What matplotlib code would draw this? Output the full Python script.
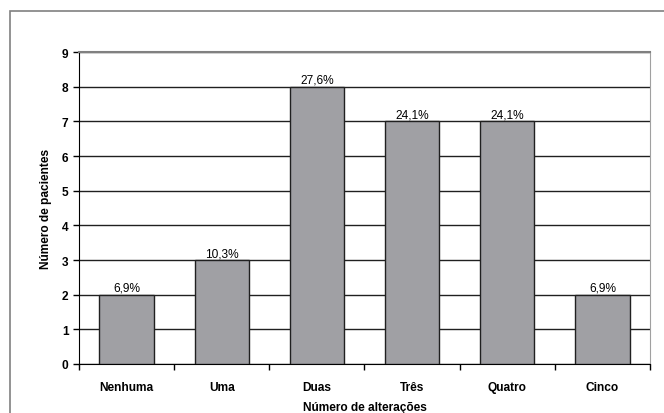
import matplotlib
matplotlib.use("Agg")
import matplotlib.pyplot as plt
from matplotlib.patches import Rectangle

categorias = ["Nenhuma", "Uma", "Duas", "Três", "Quatro", "Cinco"]
pacientes = [2, 3, 8, 7, 7, 2]
percentuais = ["6,9%", "10,3%", "27,6%", "24,1%", "24,1%", "6,9%"]

plt.rcParams["font.family"] = ["Liberation Sans", "DejaVu Sans"]

W, H = 664, 414
fig = plt.figure(figsize=(W / 100, H / 100), dpi=100)
fig.patch.set_facecolor("white")

# moldura externa (cortada à direita e embaixo)
fig.patches.append(Rectangle((10 / W, -0.1), 1.2, (H - 12) / H + 0.1,
                             transform=fig.transFigure, fill=False,
                             edgecolor="#808080", linewidth=1.2))

ax = fig.add_axes([79 / W, (H - 365) / H, (650 - 79) / W, (365 - 53) / H])
x = range(len(categorias))
ax.bar(x, pacientes, width=0.57, color="#A0A0A4", edgecolor="#202020",
       linewidth=1.0, zorder=3)

for i, (v, p) in enumerate(zip(pacientes, percentuais)):
    ax.text(i, v + 0.02, p, ha="center", va="bottom", fontsize=8.6, zorder=4)

ax.set_xlim(-0.5, len(categorias) - 0.5)
ax.set_ylim(0, 9)
ax.set_yticks(range(10))
ax.yaxis.grid(True, color="#202020", linewidth=1.0, zorder=0)
ax.set_xticks(list(x))
ax.set_xticklabels(categorias, fontsize=8.6, fontweight="bold")
ax.set_xticks([i - 0.5 for i in range(len(categorias) + 1)], minor=True)
ax.tick_params(axis="x", which="major", length=0, pad=12)
ax.tick_params(axis="x", which="minor", length=4, direction="out", width=1)
ax.tick_params(axis="y", length=4, direction="out", width=1, labelsize=8.6)
for lbl in ax.get_yticklabels():
    lbl.set_fontweight("bold")

ax.spines["left"].set_color("black")
ax.spines["bottom"].set_color("black")
ax.spines["top"].set_color("#808080")
ax.spines["right"].set_color("#A0A0A0")
ax.spines["top"].set_linewidth(1.5)

ax.set_ylabel("Número de pacientes", fontsize=8.6, fontweight="bold", labelpad=7)
ax.set_xlabel("Número de alterações", fontsize=8.6, fontweight="bold", labelpad=6)

fig.savefig("out.png", dpi=100)
